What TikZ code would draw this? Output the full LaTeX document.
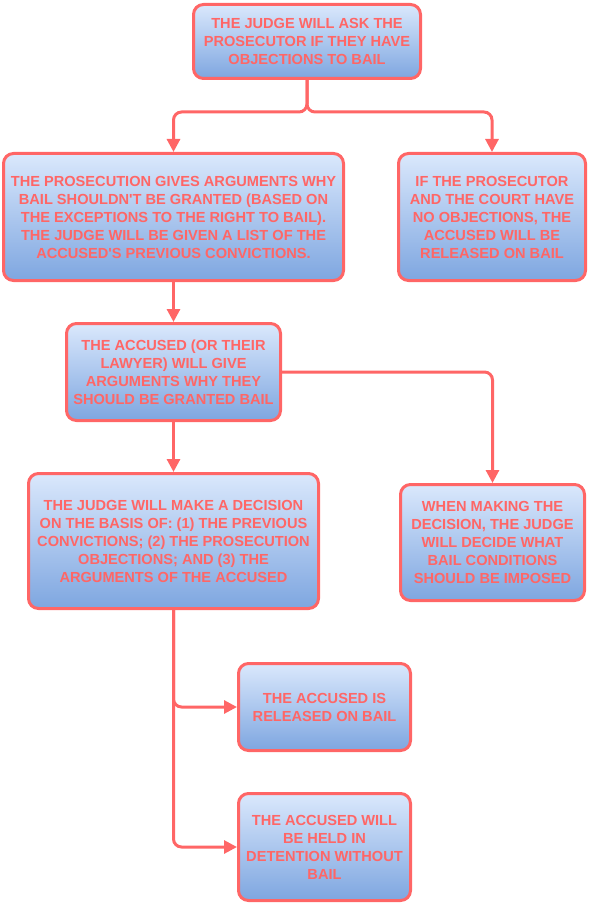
\documentclass[tikz,border=0pt]{standalone}
\usepackage{fontspec}
\setmainfont{Liberation Sans}
\usetikzlibrary{arrows.meta}
\definecolor{boxred}{HTML}{FF6666}
\definecolor{boxtop}{HTML}{DAE8FC}
\definecolor{boxbot}{HTML}{7EA6E0}
\begin{document}
\begin{tikzpicture}[x=1pt, y=-1pt, line width=3pt, font=\bfseries\fontsize{14.6}{18}\selectfont,
  box/.style={draw=boxred, rounded corners=10pt, top color=boxtop, bottom color=boxbot,
    text=boxred, align=center, inner sep=0pt},
  arr/.style={draw=boxred, rounded corners=8pt, -{Triangle[length=13pt, width=13pt]}}]
  \useasboundingbox (0,0) rectangle (589,904);
  \node[box, minimum width=227pt, minimum height=74pt] (ask) at (307,41.5)
    {THE JUDGE WILL ASK THE\\PROSECUTOR IF THEY HAVE\\OBJECTIONS TO BAIL};
  \node[box, minimum width=340pt, minimum height=127pt] (prosecution) at (173.5,217)
    {THE PROSECUTION GIVES ARGUMENTS WHY\\BAIL SHOULDN\textquotesingle T BE GRANTED (BASED ON\\THE EXCEPTIONS TO THE RIGHT TO BAIL).\\THE JUDGE WILL BE GIVEN A LIST OF THE\\ACCUSED\textquotesingle S PREVIOUS CONVICTIONS.};
  \node[box, minimum width=187pt, minimum height=127pt] (noobj) at (492,217)
    {IF THE PROSECUTOR\\AND THE COURT HAVE\\NO OBJECTIONS, THE\\ACCUSED WILL BE\\RELEASED ON BAIL};
  \node[box, minimum width=214pt, minimum height=97pt] (defence) at (173.5,372)
    {THE ACCUSED (OR THEIR\\LAWYER) WILL GIVE\\ARGUMENTS WHY THEY\\SHOULD BE GRANTED BAIL};
  \node[box, minimum width=290pt, minimum height=135pt] (decision) at (173.5,541)
    {THE JUDGE WILL MAKE A DECISION\\ON THE BASIS OF: (1) THE PREVIOUS\\CONVICTIONS; (2) THE PROSECUTION\\OBJECTIONS; AND (3) THE\\ARGUMENTS OF THE ACCUSED};
  \node[box, minimum width=184pt, minimum height=116pt] (conditions) at (492.5,542.5)
    {WHEN MAKING THE\\DECISION, THE JUDGE\\WILL DECIDE WHAT\\BAIL CONDITIONS\\SHOULD BE IMPOSED};
  \node[box, minimum width=172pt, minimum height=87pt] (released) at (324.5,707)
    {THE ACCUSED IS\\RELEASED ON BAIL};
  \node[box, minimum width=172pt, minimum height=107pt] (detained) at (324.5,847)
    {THE ACCUSED WILL\\BE HELD IN\\DETENTION WITHOUT\\BAIL};
  \coordinate (split) at (307,112);
  \draw[arr] (ask.south) -- (split) -| (prosecution.north);
  \draw[arr] (ask.south) -- (split) -| (noobj.north);
  \draw[arr] (prosecution.south) -- (defence.north);
  \draw[arr] (defence.east) -| (conditions.north);
  \draw[arr] (defence.south) -- (decision.north);
  \draw[arr] (decision.south) |- (released.west);
  \draw[arr] (decision.south) |- (detained.west);
\end{tikzpicture}
\end{document}
